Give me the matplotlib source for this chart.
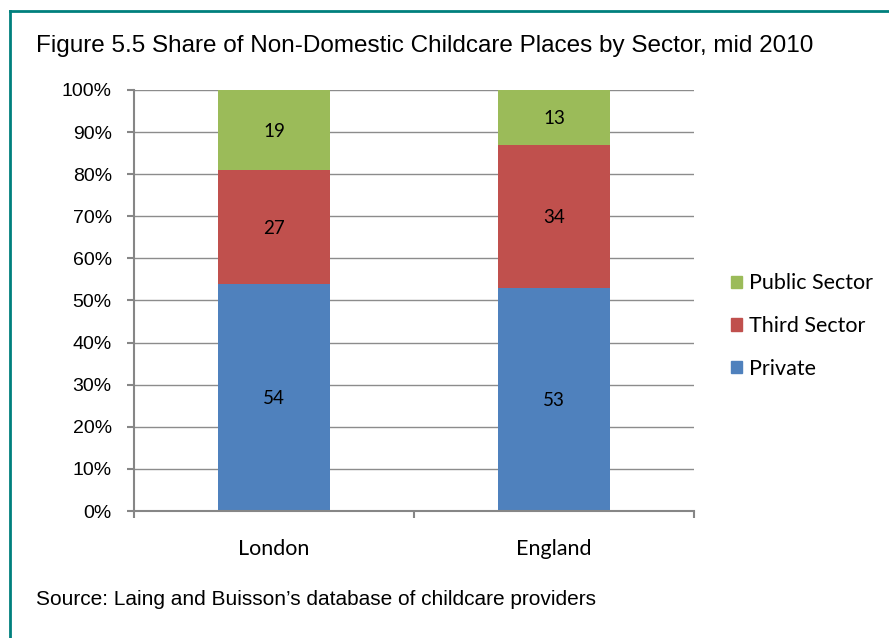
import matplotlib.pyplot as plt
from matplotlib.lines import Line2D
from matplotlib.patches import Patch
from matplotlib.ticker import MultipleLocator, FuncFormatter

regions = ['London', 'England']
private = [54, 53]
third_sector = [27, 34]
public_sector = [19, 13]

series = [
    ('Private', private, '#4F81BD'),
    ('Third Sector', third_sector, '#C0504D'),
    ('Public Sector', public_sector, '#9BBB59'),
]

fig = plt.figure(figsize=(8.89, 6.38), dpi=100)
ax = fig.add_axes([0.1507, 0.199, 0.63, 0.66])

x = range(len(regions))
bottom = [0, 0]
for name, vals, color in series:
    ax.bar(x, vals, width=0.4, bottom=bottom, color=color, zorder=2)
    for xi, v, b in zip(x, vals, bottom):
        ax.text(xi, b + v / 2, str(v), ha='center', va='center_baseline',
                fontsize=13.5, family='Lato', zorder=3)
    bottom = [b + v for b, v in zip(bottom, vals)]

ax.set_xlim(-0.5, 1.5)
ax.set_ylim(0, 100)
ax.yaxis.set_major_locator(MultipleLocator(10))
ax.yaxis.set_major_formatter(FuncFormatter(lambda v, p: f'{int(v)}%'))
ax.grid(axis='y', color='#8c8c8c', linewidth=1, zorder=0)

ax.set_xticks(x)
ax.set_xticklabels(regions, family='Lato', fontsize=15.5)
ax.set_xticks([-0.5, 0.5, 1.5], minor=True)
ax.tick_params(axis='x', which='major', length=0, pad=20)
ax.tick_params(axis='x', which='minor', length=5, width=1.5, color='#868686')
ax.tick_params(axis='y', length=5, width=1.5, color='#868686', pad=11)
for lab in ax.get_yticklabels():
    lab.set_family('Liberation Sans')
    lab.set_fontsize(14)

for side in ['top', 'right']:
    ax.spines[side].set_visible(False)
for side in ['left', 'bottom']:
    ax.spines[side].set_color('#868686')
    ax.spines[side].set_linewidth(1.5)

handles = [Patch(color=c, label=n) for n, _, c in reversed(series)]
fig.legend(handles=handles, loc='center left', bbox_to_anchor=(0.801, 0.489),
           frameon=False, prop={'family': 'Lato', 'size': 15.5},
           handlelength=0.5, handleheight=0.5, handletextpad=0.3,
           labelspacing=1.05)

fig.text(0.0405, 0.928, 'Figure 5.5 Share of Non-Domestic Childcare Places by Sector, mid 2010',
         family='Liberation Sans', fontsize=17.5, va='center')
fig.text(0.0405, 0.06, 'Source: Laing and Buisson\u2019s database of childcare providers',
         family='Liberation Sans', fontsize=15, va='center')

# teal frame along top and left
teal = '#00807D'
fig.add_artist(Line2D([10 / 889, 1], [1 - 11 / 638] * 2, color=teal, linewidth=2,
                      transform=fig.transFigure))
fig.add_artist(Line2D([10 / 889] * 2, [0, 1 - 11 / 638], color=teal, linewidth=2,
                      transform=fig.transFigure))

fig.savefig('out.png', dpi=100)
